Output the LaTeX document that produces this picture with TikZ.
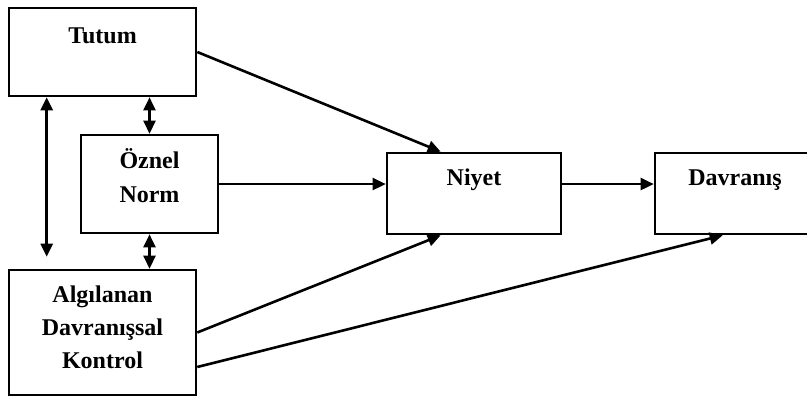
\documentclass[tikz,border=0pt]{standalone}
\usepackage{fontspec}
\setmainfont{Liberation Serif}
\usetikzlibrary{arrows.meta}
\begin{document}
\begin{tikzpicture}[x=1pt,y=-1pt,
    kutu/.style={draw,line width=2.6pt,rectangle,inner sep=0pt},
    yazi/.style={font=\fontsize{24}{34}\selectfont\bfseries,align=center,inner sep=0pt},
    ok/.style={line width=2.6pt,-{Triangle[length=13pt,width=12pt]}},
    ciftok/.style={line width=2.6pt,{Triangle[length=13pt,width=12pt]}-{Triangle[length=13pt,width=12pt]}}]
        \useasboundingbox (0,0) rectangle (807,397);
        % kutular
        \node [kutu,minimum width=187pt,minimum height=88pt] (tutum) at (102.5,52) {};
        \node [kutu,minimum width=137pt,minimum height=98pt] (oznel) at (149.5,184) {};
        \node [kutu,minimum width=187pt,minimum height=125pt] (algilanan) at (102.5,332.5) {};
        \node [kutu,minimum width=174pt,minimum height=81pt] (niyet) at (474,193.5) {};
        \node [kutu,minimum width=160pt,minimum height=81pt] (davranis) at (735,193.5) {};
        % yazilar (base = son satir)
        \node [yazi,anchor=base] (tutumyazi) at (102.5,43) {Tutum};
        \node [yazi,anchor=base] (oznelyazi) at (149.5,202) {Öznel\\Norm};
        \node [yazi,anchor=base,font=\fontsize{24}{33}\selectfont\bfseries] (algilananyazi) at (102.5,368) {Algılanan\\Davranışsal\\Kontrol};
        \node [yazi,anchor=base] (niyetyazi) at (474,185) {Niyet};
        \node [yazi,anchor=base] (davranisyazi) at (735,185) {Davranış};
        % oklar
        \coordinate (solucu) at ([xshift=39pt,yshift=12pt]algilanan.north west);
        \draw [ciftok] ([xshift=39pt]tutum.south west) -- (solucu);
        \draw [ciftok] (oznel.north) -- (oznel.north |- tutum.south);
        \draw [ciftok] (oznel.south) -- (oznel.south |- algilanan.north);
        \draw [ok] (tutum.east) -- ([xshift=55pt]niyet.north west);
        \draw [ok] (oznel.east) -- (oznel.east -| niyet.west);
        \draw [ok] (oznel.east -| niyet.east) -- (oznel.east -| davranis.west);
        \draw [ok] (algilanan.east) -- ([xshift=55pt]niyet.south west);
        \draw [ok] ([yshift=-34.5pt]algilanan.east) -- ([xshift=69pt]davranis.south west);
\end{tikzpicture}
\end{document}
